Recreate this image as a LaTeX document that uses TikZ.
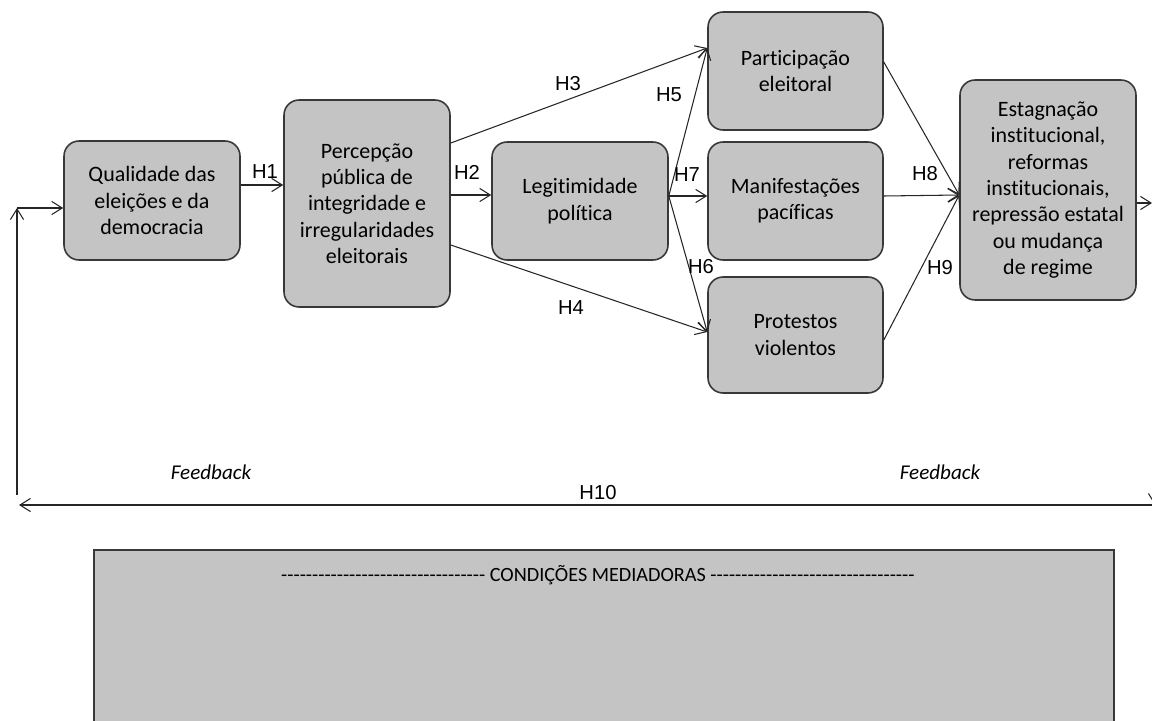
\documentclass[tikz,border=0pt]{standalone}
\usepackage{fontspec}
\setmainfont{Carlito}[Ligatures={NoCommon}]
\newfontfamily\arialfont{Liberation Sans}
\usetikzlibrary{calc,positioning,arrows.meta}
\definecolor{boxgray}{HTML}{C4C4C4}
\definecolor{edgegray}{HTML}{383838}
\newcommand{\dashrun}[1]{\foreach \k in {1,...,#1}{-\kern0pt}}

\begin{document}
\begin{tikzpicture}[x=0.02cm, y=-0.02cm]
        \tikzstyle{box}=[draw=edgegray, fill=boxgray, rounded corners=0.3cm, line width=0.9pt, align=center, inner sep=2pt, font=\fontsize{12.5}{15}\selectfont]
        \tikzstyle{hyp}=[font=\arialfont\fontsize{11.5}{13}\selectfont, inner sep=1pt]
        \tikzstyle{arr}=[-{Straight Barb[length=6pt,width=7.5pt]}, line width=0.6pt, draw=black!85]

        \clip (0,0) rectangle (1152,720);

        % Boxes
        \node[box, minimum width=3.52cm, minimum height=2.38cm] (qual) at (152,200.5) {Qualidade das\\eleições e da\\democracia};
        \node[box, minimum width=3.32cm, minimum height=4.14cm] (perc) at (367,203.5) {Percepção\\pública de\\integridade e\\irregularidades\\eleitorais};
        \node[box, minimum width=3.52cm, minimum height=2.36cm] (legit) at (580,201) {Legitimidade\\política};
        \node[box, minimum width=3.5cm, minimum height=2.36cm] (part) at (795.5,71) {Participação\\eleitoral};
        \node[box, minimum width=3.5cm, minimum height=2.36cm] (manif) at (795.5,201) {Manifestações\\pacíficas};
        \node[box, minimum width=3.5cm, minimum height=2.32cm] (prot) at (795.5,335) {Protestos\\violentos};
        \node[box, minimum width=3.52cm, minimum height=4.4cm] (estag) at (1048,190) {Estagnação\\institucional,\\reformas\\institucionais,\\repressão estatal\\ou mudança\\de regime};

        % Mediating conditions
        \draw[draw=edgegray, fill=boxgray, line width=1.4pt] (94,550) rectangle (1114,740);
        \node (med) at (598,575) {\fontsize{11.5}{13}\selectfont \dashrun{33} CONDIÇÕES MEDIADORAS \dashrun{33}};

        % Anchor points
        \coordinate (h1s) at ($(qual.east)+(0,-15.5)$);
        \coordinate (h2s) at ($(perc.east)+(0,-8.5)$);
        \coordinate (h3s) at ($(perc.east)+(0,-60.5)$);
        \coordinate (h4s) at ($(perc.east)+(0,41.5)$);
        \coordinate (partin) at ($(part.west)+(0,-23)$);
        \coordinate (protin) at ($(prot.west)+(0,-3)$);
        \coordinate (legout) at ($(legit.east)+(0,-5)$);
        \coordinate (estin) at ($(estag.west)+(0,5)$);
        \coordinate (estout) at ($(estag.east)+(0,13)$);

        % Hypotheses
        \draw[arr] (h1s) -- (h1s -| perc.west);
        \draw[arr] (h2s) -- (h2s -| legit.west);
        \draw[arr] (h3s) -- (partin);
        \draw[arr] (h4s) -- (protin);
        \draw[arr] (legout) -- (partin);
        \draw[arr] (legout) -- (legout -| manif.west);
        \draw[arr] (legout) -- (protin);
        \draw[arr] ($(part.east)+(0,-9)$) -- (estin);
        \draw[arr] ($(manif.east)+(0,-5)$) -- (estin);
        \draw[arr] ($(prot.east)+(0,5)$) -- (estin);
        \draw[arr] (estout) -- (estout -| 1152,0);

        % Feedback loop
        \coordinate (fbtop) at (1155,203);
        \coordinate (fbright) at (1155,505);
        \coordinate (fbleft) at (19,505);
        \coordinate (fbup) at (17,495);
        \coordinate (fbcorner) at (17,208);
        \draw[arr] (fbtop) -- (fbright);
        \draw[arr] (fbright) -- (fbleft);
        \draw[arr] (fbup) -- (fbcorner);
        \draw[arr] (fbcorner) -- (fbcorner -| qual.west);

        % Labels
        \node[hyp] (lh1) at (265,172) {H1};
        \node[hyp] (lh2) at (467,172) {H2};
        \node[hyp] (lh3) at (568,84) {H3};
        \node[hyp] (lh4) at (571,308) {H4};
        \node[hyp] (lh5) at (669,95) {H5};
        \node[hyp] (lh7) at (687,175) {H7};
        \node[hyp] (lh6) at (701,267) {H6};
        \node[hyp] (lh8) at (925,174) {H8};
        \node[hyp] (lh9) at (940,268) {H9};
        \node[hyp] (lh10) at (598,493) {H10};
        \node (fbl) at (211,472) {\fontsize{12}{14}\selectfont\itshape Feedback};
        \node (fbr) at (940,472) {\fontsize{12}{14}\selectfont\itshape Feedback};
    \end{tikzpicture}
\end{document}
